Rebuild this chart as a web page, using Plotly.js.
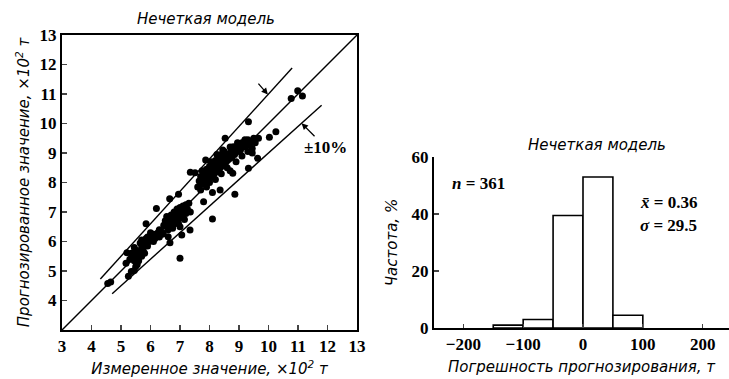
<!DOCTYPE html>
<html>
<head>
<meta charset="utf-8">
<script src="https://cdn.plot.ly/plotly-3.0.1.min.js"></script>
<style>html,body{margin:0;padding:0;background:#fff;}#chart{width:729px;height:379px;}</style>
</head>
<body>
<div id="chart"></div>
<script>
// Scatter: measured vs predicted (x10^2 t)
const measured = [
4.55,4.65,5.17,5.25,5.35,5.45,5.5,5.55,
5.3,5.4,5.45,5.5,5.55,5.6,5.6,5.65,5.7,5.7,5.75,5.8,5.8,5.85,5.9,5.9,5.95,6.0,6.05,6.1,6.15,6.2,6.25,6.3,6.35,6.4,5.5,5.65,5.35,5.45,5.7,6.0,6.1,6.3,
5.85,6.2,5.2,
6.43,6.6,6.66,7.0,7.06,7.34,7.0,
6.45,6.5,6.55,6.6,6.65,6.7,6.7,6.75,6.8,6.8,6.85,6.9,6.9,6.95,7.0,7.0,7.05,7.1,7.1,7.15,7.2,7.25,7.3,7.35,6.6,6.75,6.95,7.15,7.2,6.55,
6.65,6.95,7.35,7.87,8.53,9.32,7.51,
7.8,8.1,8.1,8.36,8.79,8.86,9.32,9.63,10.03,10.25,10.77,10.99,11.15,
7.6,7.65,7.7,7.7,7.75,7.8,7.8,7.85,7.9,7.9,7.95,8.0,8.0,8.05,8.1,8.1,8.15,8.2,8.2,8.25,8.3,8.3,8.35,8.4,8.4,8.45,8.5,8.5,8.55,8.6,8.65,8.7,8.75,8.8,8.85,8.9,8.95,9.0,9.05,9.1,9.15,9.2,9.25,9.3,9.35,9.4,9.45,9.55,9.5,9.66,
7.9,8.0,8.2,8.4,8.6,8.7,8.9,9.1,9.3,9.45,
7.75,8.05,8.25,8.45,8.7,8.95,9.2,8.81
];
const predicted = [
4.58,4.63,5.26,4.82,4.98,5.02,5.15,5.22,
5.4,5.5,5.35,5.6,5.45,5.65,5.35,5.55,5.8,5.5,5.7,5.95,5.6,6.1,5.85,6.15,6.0,6.2,6.05,6.25,6.1,6.2,6.3,6.15,6.35,6.25,5.7,5.95,5.6,5.8,6.05,6.3,6.0,6.4,
6.6,7.12,5.62,
6.28,6.16,5.96,5.43,6.22,6.39,6.5,
6.55,6.7,6.5,6.8,6.65,6.9,6.55,6.75,7.0,6.6,6.85,7.1,6.7,6.95,7.15,6.8,7.0,7.2,6.9,7.05,7.25,7.1,7.3,7.0,6.4,6.45,6.6,6.75,6.95,6.85,
7.45,7.6,8.35,8.76,9.5,10.06,8.33,
7.35,6.76,7.66,7.75,8.31,7.6,8.48,8.82,9.53,9.72,10.85,11.11,10.93,
7.85,8.05,7.75,8.2,7.95,8.15,8.35,8.0,8.25,8.45,8.1,8.35,8.55,8.2,8.45,8.65,8.3,8.55,8.75,8.4,8.65,8.85,8.5,8.75,8.95,8.6,8.85,9.05,8.7,8.95,8.8,9.0,8.85,9.1,8.95,9.2,9.05,9.3,9.1,9.35,9.2,9.4,9.25,9.45,9.3,9.4,9.15,9.35,9.5,9.5,
7.85,8.0,8.1,8.3,8.5,8.4,8.7,8.9,9.05,9.0,
8.4,8.7,8.95,9.1,9.2,9.35,9.45,9.21
];
// diagonal and ±10% band lines
const diagX = [3, 13];
const bandPct = 0.10;
const upperX = [4.3, 10.8];
const lowerX = [4.7, 11.8];
const xTicksL = [3,4,5,6,7,8,9,10,11,12,13];
const yTicksL = [4,5,6,7,8,9,10,11,12,13];

// Histogram of forecast error
const binLeft = [-150, -100, -50, 0, 50];
const binWidth = 50;
const freq = [1, 3, 39.5, 53, 4.5];
const xTicksH = [-200, -100, 0, 100, 200];
const xTickTextH = ['\u2212200', '\u2212100', '0', '100', '200'];
const yTicksH = [0, 20, 40, 60];

const black = '#000';
const bold = arr => arr.map(v => '<b>' + v + '</b>');
const tickFont = {family: 'Liberation Serif', size: 17, color: black};
const titleFont = {family: 'DejaVu Sans', size: 15, color: black, style: 'italic'};
const noteFont = {family: 'Liberation Serif', size: 17, color: black};

const traces = [
  {x: diagX, y: diagX, mode: 'lines', line: {color: black, width: 1.4}, xaxis: 'x', yaxis: 'y', hoverinfo: 'skip'},
  {x: upperX, y: upperX.map(v => v * (1 + bandPct)), mode: 'lines', line: {color: black, width: 1.4}, xaxis: 'x', yaxis: 'y'},
  {x: lowerX, y: lowerX.map(v => v * (1 - bandPct)), mode: 'lines', line: {color: black, width: 1.4}, xaxis: 'x', yaxis: 'y'},
  {x: measured, y: predicted, mode: 'markers', marker: {color: black, size: 7}, xaxis: 'x', yaxis: 'y'},
  {type: 'bar', x: binLeft.map(v => v + binWidth / 2), y: freq, width: binWidth,
   marker: {color: '#fff', line: {color: black, width: 1.6}}, xaxis: 'x2', yaxis: 'y2'}
];

const layout = {
  width: 729, height: 379,
  margin: {l: 0, r: 0, t: 0, b: 0},
  paper_bgcolor: '#fff', plot_bgcolor: 'rgba(0,0,0,0)',
  showlegend: false,
  xaxis: {domain: [62/729, 357/729], range: [3, 13], tickvals: xTicksL, ticktext: bold(xTicksL), ticks: 'inside', ticklen: 5, tickwidth: 1.2,
          showline: true, mirror: true, linewidth: 2, linecolor: black, showgrid: false, zeroline: false,
          tickfont: tickFont, anchor: 'y',
          title: {text: 'Измеренное значение, ×10<sup>2</sup> т', font: titleFont, standoff: 8}},
  yaxis: {domain: [49/379, 344/379], range: [3, 13], tickvals: yTicksL, ticktext: bold(yTicksL), ticks: 'inside', ticklen: 5, tickwidth: 1.2,
          showline: true, mirror: true, linewidth: 2, linecolor: black, showgrid: false, zeroline: false,
          tickfont: tickFont, anchor: 'x',
          title: {text: 'Прогнозированное значение, ×10<sup>2</sup> т', font: titleFont, standoff: 6}},
  xaxis2: {domain: [434/729, 1], range: [-249, 244], tickvals: xTicksH, ticktext: bold(xTickTextH), ticks: 'inside', ticklen: 4, tickwidth: 1.2,
           showline: true, linewidth: 2, linecolor: black, showgrid: false, zeroline: false,
           tickfont: tickFont, anchor: 'y2',
           title: {text: 'Погрешность прогнозирования, т', font: titleFont, standoff: 8}},
  yaxis2: {domain: [51/379, 222/379], range: [0, 60], tickvals: yTicksH, ticktext: bold(yTicksH), ticks: 'inside', ticklen: 5, tickwidth: 1.2,
           showline: true, linewidth: 2, linecolor: black, showgrid: false, zeroline: false,
           tickfont: tickFont, anchor: 'x2',
           title: {text: 'Частота, %', font: titleFont, standoff: 10}},
  annotations: [
    {xref: 'paper', yref: 'paper', x: 206/729, y: 1 - 19/379, xanchor: 'center', yanchor: 'middle', text: 'Нечеткая модель', showarrow: false, font: titleFont},
    {xref: 'paper', yref: 'paper', x: 597/729, y: 1 - 145/379, xanchor: 'center', yanchor: 'middle', text: 'Нечеткая модель', showarrow: false, font: titleFont},
    {xref: 'x', yref: 'y', x: 9.98, y: 10.98, ax: -13, ay: -15, text: ' ', showarrow: true, arrowhead: 2, arrowsize: 1, arrowwidth: 1.3, arrowcolor: black, font: noteFont},
    {xref: 'x', yref: 'y', x: 11.12, y: 10.01, text: '<b>±10%</b>', showarrow: true, ax: 24, ay: 24, arrowhead: 2, arrowsize: 1, arrowwidth: 1.3, arrowcolor: black,
     font: noteFont},
    {xref: 'paper', yref: 'paper', x: 478/729, y: 1 - 183/379, xanchor: 'center', yanchor: 'middle', text: '<b><i>n</i> = 361</b>', showarrow: false, font: noteFont},
    {xref: 'paper', yref: 'paper', x: 638/729, y: 1 - 202/379, yanchor: 'middle', xanchor: 'left', text: '<b><i>x̄</i> = 0.36</b>', showarrow: false, font: noteFont},
    {xref: 'paper', yref: 'paper', x: 638/729, y: 1 - 225/379, yanchor: 'middle', xanchor: 'left', text: '<b><i>σ</i> = 29.5</b>', showarrow: false, font: noteFont}
  ]
};

Plotly.newPlot('chart', traces, layout, {displayModeBar: false, staticPlot: true});
</script>
</body>
</html>
